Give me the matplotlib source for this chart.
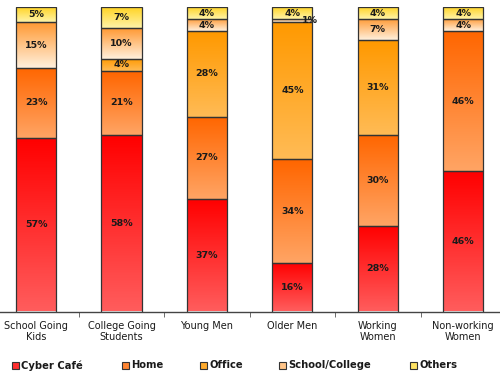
import numpy as np
import matplotlib
matplotlib.use("Agg")
import matplotlib.pyplot as plt
from matplotlib.colors import to_rgb
from matplotlib.patches import Rectangle

# data (percent share of access location)
categories = ["School Going\nKids", "College Going\nStudents", "Young Men",
              "Older Men", "Working\nWomen", "Non-working\nWomen"]
series_names = ["Cyber Café", "Home", "Office", "School/College", "Others"]
cyber = [57, 58, 37, 16, 28, 46]
home = [23, 21, 27, 34, 30, 46]
office = [0, 4, 28, 45, 31, 0]
school = [15, 10, 4, 1, 7, 4]
others = [5, 7, 4, 4, 4, 4]

# gradient colours (top, bottom) for each series
grad = [("#ff0000", "#ff5c5c"),
        ("#ff6600", "#ffa464"),
        ("#ff9900", "#ffbb55"),
        ("#ff9933", "#fff0dc"),
        ("#ffd21e", "#fff4a8")]

W, H = 500, 389
fig = plt.figure(figsize=(W / 100, H / 100), dpi=100)
left_px, right_px = -6.7, 506
base_px, top_px = 311.5, 7
ax = fig.add_axes([left_px / W, (H - base_px) / H,
                   (right_px - left_px) / W, (base_px - top_px) / H])

x = np.arange(len(categories))
width = 0.47
bottoms = np.zeros(len(categories))

for vals, (ctop, cbot) in zip([cyber, home, office, school, others], grad):
    g = np.linspace(0, 1, 64)[:, None, None]
    img = (1 - g) * np.array(to_rgb(cbot)) + g * np.array(to_rgb(ctop))
    for i, v in enumerate(vals):
        if v <= 0:
            continue
        b = bottoms[i]
        ax.imshow(img, extent=(x[i] - width / 2, x[i] + width / 2, b, b + v),
                  origin="lower", aspect="auto", zorder=1)
        ax.add_patch(Rectangle((x[i] - width / 2, b), width, v, fill=False,
                               edgecolor="#333333", linewidth=0.9, zorder=2))
        lx = x[i] + (0.21 if v < 2 else 0)
        ax.text(lx, b + v / 2, f"{v}%", ha="center", va="center",
                fontsize=6.8, fontweight="bold", color="#1a1a1a", zorder=3)
    bottoms += np.array(vals)

ax.set_xlim(-0.5, len(categories) - 0.5)
ax.set_ylim(0, 100)
ax.set_yticks([])
for s in ["left", "right", "top"]:
    ax.spines[s].set_visible(False)
ax.spines["bottom"].set_color("#444444")
ax.spines["bottom"].set_linewidth(1.0)
ax.set_xticks(x)
ax.set_xticklabels(categories, fontsize=7, color="#1a1a1a", linespacing=1.15)
ax.tick_params(axis="x", which="major", length=0, pad=7)
ax.set_xticks(x[:-1] + 0.5, minor=True)
ax.tick_params(axis="x", which="minor", length=3.5, color="#555555")

# legend
leg_x = [12, 122, 200, 279, 410]
leg_y = 365.5
for px, name, (ctop, cbot) in zip(leg_x, series_names, grad):
    mid = 0.5 * (np.array(to_rgb(ctop)) + np.array(to_rgb(cbot)))
    fig.add_artist(Rectangle((px / W, (H - leg_y - 3.5) / H), 7 / W, 7 / H,
                             facecolor=mid, edgecolor="#333333", linewidth=0.8,
                             transform=fig.transFigure))
    fig.text((px + 9) / W, (H - leg_y) / H, name, ha="left", va="center",
             fontsize=7.2, fontweight="bold", color="#1a1a1a")

fig.savefig("out.png", dpi=100)
